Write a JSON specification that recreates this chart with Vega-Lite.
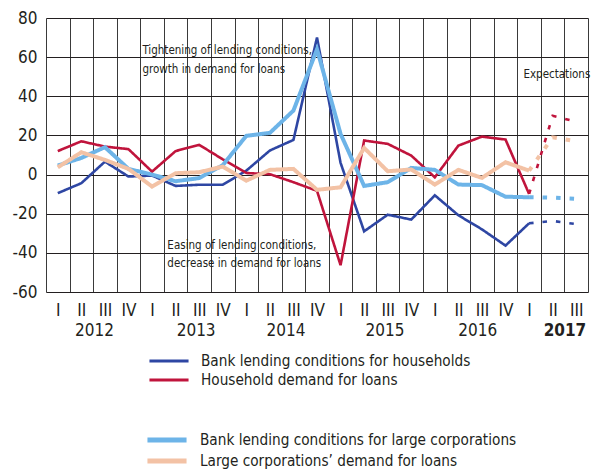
{
  "$schema": "https://vega.github.io/schema/vega-lite/v6.json",
  "autosize": "none",
  "padding": {"left": 46, "top": 18, "right": 4, "bottom": 179},
  "width": 542,
  "height": 274,
  "background": "white",
  "config": {
    "view": {"stroke": null},
    "font": "DejaVu Sans Condensed, Liberation Sans, sans-serif",
    "axis": {"labelFont": "DejaVu Sans Condensed, Liberation Sans, sans-serif", "labelColor": "#231f20", "labelFontSize": 17, "ticks": false, "domain": false, "labelFlush": false, "labelOverlap": false, "title": null},
    "legend": {"labelFont": "DejaVu Sans Condensed, Liberation Sans, sans-serif", "labelColor": "#231f20", "labelFontSize": 15.2, "labelLimit": 0, "padding": 0, "rowPadding": 0, "labelOffset": 22, "symbolType": "M-2.3,0H2.3", "symbolSize": 289, "title": null, "orient": "none", "direction": "vertical"}
  },
  "datasets": {
    "lines": [
      {"s": "Bank lending conditions for households", "t": 0, "v": -9.5, "p": "actual"},
      {"s": "Bank lending conditions for households", "t": 1, "v": -4.4, "p": "actual"},
      {"s": "Bank lending conditions for households", "t": 2, "v": 6.6, "p": "actual"},
      {"s": "Bank lending conditions for households", "t": 3, "v": -1, "p": "actual"},
      {"s": "Bank lending conditions for households", "t": 4, "v": -0.5, "p": "actual"},
      {"s": "Bank lending conditions for households", "t": 5, "v": -5.8, "p": "actual"},
      {"s": "Bank lending conditions for households", "t": 6, "v": -5.2, "p": "actual"},
      {"s": "Bank lending conditions for households", "t": 7, "v": -5.2, "p": "actual"},
      {"s": "Bank lending conditions for households", "t": 8, "v": 2, "p": "actual"},
      {"s": "Bank lending conditions for households", "t": 9, "v": 12.3, "p": "actual"},
      {"s": "Bank lending conditions for households", "t": 10, "v": 17.7, "p": "actual"},
      {"s": "Bank lending conditions for households", "t": 11, "v": 70, "p": "actual"},
      {"s": "Bank lending conditions for households", "t": 12, "v": 6, "p": "actual"},
      {"s": "Bank lending conditions for households", "t": 13, "v": -29, "p": "actual"},
      {"s": "Bank lending conditions for households", "t": 14, "v": -20.5, "p": "actual"},
      {"s": "Bank lending conditions for households", "t": 15, "v": -23, "p": "actual"},
      {"s": "Bank lending conditions for households", "t": 16, "v": -10.6, "p": "actual"},
      {"s": "Bank lending conditions for households", "t": 17, "v": -20.8, "p": "actual"},
      {"s": "Bank lending conditions for households", "t": 18, "v": -28, "p": "actual"},
      {"s": "Bank lending conditions for households", "t": 19, "v": -36.3, "p": "actual"},
      {"s": "Bank lending conditions for households", "t": 20, "v": -24.9, "p": "actual"},
      {"s": "Bank lending conditions for households", "t": 20, "v": -24.9, "p": "expected"},
      {"s": "Bank lending conditions for households", "t": 21, "v": -23.7, "p": "expected"},
      {"s": "Bank lending conditions for households", "t": 22, "v": -25.3, "p": "expected"},
      {"s": "Household demand for loans", "t": 0, "v": 12, "p": "actual"},
      {"s": "Household demand for loans", "t": 1, "v": 17, "p": "actual"},
      {"s": "Household demand for loans", "t": 2, "v": 14.3, "p": "actual"},
      {"s": "Household demand for loans", "t": 3, "v": 13, "p": "actual"},
      {"s": "Household demand for loans", "t": 4, "v": 1.5, "p": "actual"},
      {"s": "Household demand for loans", "t": 5, "v": 12, "p": "actual"},
      {"s": "Household demand for loans", "t": 6, "v": 15.2, "p": "actual"},
      {"s": "Household demand for loans", "t": 7, "v": 7.8, "p": "actual"},
      {"s": "Household demand for loans", "t": 8, "v": 0.8, "p": "actual"},
      {"s": "Household demand for loans", "t": 9, "v": 0.2, "p": "actual"},
      {"s": "Household demand for loans", "t": 10, "v": -3.9, "p": "actual"},
      {"s": "Household demand for loans", "t": 11, "v": -8.3, "p": "actual"},
      {"s": "Household demand for loans", "t": 12, "v": -46.3, "p": "actual"},
      {"s": "Household demand for loans", "t": 13, "v": 17.4, "p": "actual"},
      {"s": "Household demand for loans", "t": 14, "v": 15.7, "p": "actual"},
      {"s": "Household demand for loans", "t": 15, "v": 9.7, "p": "actual"},
      {"s": "Household demand for loans", "t": 16, "v": -1.4, "p": "actual"},
      {"s": "Household demand for loans", "t": 17, "v": 14.8, "p": "actual"},
      {"s": "Household demand for loans", "t": 18, "v": 19.4, "p": "actual"},
      {"s": "Household demand for loans", "t": 19, "v": 17.9, "p": "actual"},
      {"s": "Household demand for loans", "t": 20, "v": -9.9, "p": "actual"},
      {"s": "Household demand for loans", "t": 20, "v": -9.9, "p": "expected"},
      {"s": "Household demand for loans", "t": 21, "v": 30, "p": "expected"},
      {"s": "Household demand for loans", "t": 22, "v": 27, "p": "expected"},
      {"s": "Bank lending conditions for large corporations", "t": 0, "v": 4.6, "p": "actual"},
      {"s": "Bank lending conditions for large corporations", "t": 1, "v": 8.5, "p": "actual"},
      {"s": "Bank lending conditions for large corporations", "t": 2, "v": 14, "p": "actual"},
      {"s": "Bank lending conditions for large corporations", "t": 3, "v": 2.9, "p": "actual"},
      {"s": "Bank lending conditions for large corporations", "t": 4, "v": 0, "p": "actual"},
      {"s": "Bank lending conditions for large corporations", "t": 5, "v": -3.4, "p": "actual"},
      {"s": "Bank lending conditions for large corporations", "t": 6, "v": -1.8, "p": "actual"},
      {"s": "Bank lending conditions for large corporations", "t": 7, "v": 4.8, "p": "actual"},
      {"s": "Bank lending conditions for large corporations", "t": 8, "v": 19.8, "p": "actual"},
      {"s": "Bank lending conditions for large corporations", "t": 9, "v": 21.3, "p": "actual"},
      {"s": "Bank lending conditions for large corporations", "t": 10, "v": 32.7, "p": "actual"},
      {"s": "Bank lending conditions for large corporations", "t": 11, "v": 64, "p": "actual"},
      {"s": "Bank lending conditions for large corporations", "t": 12, "v": 20.8, "p": "actual"},
      {"s": "Bank lending conditions for large corporations", "t": 13, "v": -5.8, "p": "actual"},
      {"s": "Bank lending conditions for large corporations", "t": 14, "v": -3.9, "p": "actual"},
      {"s": "Bank lending conditions for large corporations", "t": 15, "v": 3.4, "p": "actual"},
      {"s": "Bank lending conditions for large corporations", "t": 16, "v": 2.4, "p": "actual"},
      {"s": "Bank lending conditions for large corporations", "t": 17, "v": -5.1, "p": "actual"},
      {"s": "Bank lending conditions for large corporations", "t": 18, "v": -5.4, "p": "actual"},
      {"s": "Bank lending conditions for large corporations", "t": 19, "v": -11.3, "p": "actual"},
      {"s": "Bank lending conditions for large corporations", "t": 20, "v": -11.6, "p": "actual"},
      {"s": "Bank lending conditions for large corporations", "t": 20, "v": -11.6, "p": "expected"},
      {"s": "Bank lending conditions for large corporations", "t": 21, "v": -11.8, "p": "expected"},
      {"s": "Bank lending conditions for large corporations", "t": 22, "v": -12.4, "p": "expected"},
      {"s": "Large corporations’ demand for loans", "t": 0, "v": 3.7, "p": "actual"},
      {"s": "Large corporations’ demand for loans", "t": 1, "v": 11.4, "p": "actual"},
      {"s": "Large corporations’ demand for loans", "t": 2, "v": 7.5, "p": "actual"},
      {"s": "Large corporations’ demand for loans", "t": 3, "v": 2.9, "p": "actual"},
      {"s": "Large corporations’ demand for loans", "t": 4, "v": -6.1, "p": "actual"},
      {"s": "Large corporations’ demand for loans", "t": 5, "v": 0.7, "p": "actual"},
      {"s": "Large corporations’ demand for loans", "t": 6, "v": 1.2, "p": "actual"},
      {"s": "Large corporations’ demand for loans", "t": 7, "v": 4.1, "p": "actual"},
      {"s": "Large corporations’ demand for loans", "t": 8, "v": -3.1, "p": "actual"},
      {"s": "Large corporations’ demand for loans", "t": 9, "v": 2.4, "p": "actual"},
      {"s": "Large corporations’ demand for loans", "t": 10, "v": 2.9, "p": "actual"},
      {"s": "Large corporations’ demand for loans", "t": 11, "v": -7.8, "p": "actual"},
      {"s": "Large corporations’ demand for loans", "t": 12, "v": -6.5, "p": "actual"},
      {"s": "Large corporations’ demand for loans", "t": 13, "v": 13.6, "p": "actual"},
      {"s": "Large corporations’ demand for loans", "t": 14, "v": 1.7, "p": "actual"},
      {"s": "Large corporations’ demand for loans", "t": 15, "v": 2.6, "p": "actual"},
      {"s": "Large corporations’ demand for loans", "t": 16, "v": -5.1, "p": "actual"},
      {"s": "Large corporations’ demand for loans", "t": 17, "v": 2.4, "p": "actual"},
      {"s": "Large corporations’ demand for loans", "t": 18, "v": -1.7, "p": "actual"},
      {"s": "Large corporations’ demand for loans", "t": 19, "v": 6.3, "p": "actual"},
      {"s": "Large corporations’ demand for loans", "t": 20, "v": 2, "p": "actual"},
      {"s": "Large corporations’ demand for loans", "t": 20, "v": 2, "p": "expected"},
      {"s": "Large corporations’ demand for loans", "t": 21, "v": 19, "p": "expected"},
      {"s": "Large corporations’ demand for loans", "t": 22, "v": 17, "p": "expected"}
    ],
    "notes": [
      {"t": 3.59, "v": 61.7, "label": "Tightening of lending conditions,"},
      {"t": 3.59, "v": 51.8, "label": "growth in demand for loans"},
      {"t": 4.65, "v": -37.9, "label": "Easing of lending conditions,"},
      {"t": 4.65, "v": -47.3, "label": "decrease in demand for loans"},
      {"t": 19.76, "v": 49.5, "label": "Expectations"}
    ]
  },
  "resolve": {"axis": {"x": "independent", "y": "independent"}},
  "layer": [
    {
      "data": {"name": "notes"},
      "mark": {"type": "text", "align": "left", "baseline": "alphabetic", "fontSize": 11.5, "color": "#231f20"},
      "encoding": {
        "x": {"field": "t", "type": "quantitative", "scale": {"domain": [-0.5, 22.5], "nice": false, "zero": false},
          "axis": {"orient": "bottom", "values": [-0.5, 0.5, 1.5, 2.5, 3.5, 4.5, 5.5, 6.5, 7.5, 8.5, 9.5, 10.5, 11.5, 12.5, 13.5, 14.5, 15.5, 16.5, 17.5, 18.5, 19.5, 20.5, 21.5, 22.5], "labels": false, "grid": true, "gridColor": "#3a3a3a", "gridWidth": 1, "gridOpacity": 1}},
        "y": {"field": "v", "type": "quantitative", "scale": {"domain": [-60, 80], "nice": false, "zero": false},
          "axis": {"orient": "left", "values": [-60, -40, -20, 0, 20, 40, 60, 80], "labelExpr": "datum.value + ''", "grid": true, "gridColor": "#231f20", "gridWidth": 1, "gridOpacity": 1, "labelPadding": 9}},
        "text": {"field": "label"}
      }
    },
    {
      "mark": {"type": "rule", "color": "#111111", "strokeWidth": 2},
      "encoding": {"y": {"datum": 0, "type": "quantitative", "axis": null}}
    },
    {
      "data": {"name": "lines"},
      "transform": [{"filter": "indexof(datum.s, 'ouseho') >= 0"}],
      "mark": {"type": "line", "strokeWidth": 2.6, "strokeJoin": "miter", "strokeCap": "butt"},
      "encoding": {
        "x": {"field": "t", "type": "quantitative",
          "axis": {"orient": "bottom", "values": [0, 1, 2, 3, 4, 5, 6, 7, 8, 9, 10, 11, 12, 13, 14, 15, 16, 17, 18, 19, 20, 21, 22], "labelExpr": "['I','II','III','IV'][datum.value % 4]", "grid": false, "labelPadding": 10, "labelBaseline": "top"}},
        "y": {"field": "v", "type": "quantitative", "axis": null},
        "color": {"field": "s", "type": "nominal",
          "scale": {"domain": ["Bank lending conditions for households", "Household demand for loans"], "range": ["#2e46a3", "#c0143c"]},
          "legend": {"legendX": 113, "legendY": 333, "symbolStrokeWidth": 3}},
        "strokeDash": {"field": "p", "type": "nominal", "scale": {"domain": ["actual", "expected"], "range": [[1, 0], [4.5, 9]]}, "legend": null},
        "order": {"field": "t", "type": "quantitative"}
      }
    },
    {
      "data": {"name": "lines"},
      "transform": [{"filter": "indexof(datum.s, 'orporation') >= 0"}],
      "mark": {"type": "line", "strokeWidth": 4, "strokeJoin": "miter", "strokeCap": "butt"},
      "encoding": {
        "x": {"field": "t", "type": "quantitative",
          "axis": {"orient": "bottom", "values": [1.54, 5.85, 9.66, 13.86, 17.8, 21.5], "labelExpr": "floor(datum.value / 4) + 2012", "grid": false, "labelPadding": 30, "labelBaseline": "top", "labelFontWeight": {"condition": {"test": "datum.value > 20", "value": "bold"}, "value": "normal"}}},
        "y": {"field": "v", "type": "quantitative", "axis": null},
        "stroke": {"field": "s", "type": "nominal",
          "scale": {"domain": ["Bank lending conditions for large corporations", "Large corporations’ demand for loans"], "range": ["#6db4e8", "#f3c2a5"]},
          "legend": {"legendX": 110, "legendY": 411, "symbolStrokeWidth": 5, "rowPadding": -2}},
        "strokeDash": {"field": "p", "type": "nominal", "legend": null},
        "order": {"field": "t", "type": "quantitative"}
      }
    }
  ]
}
